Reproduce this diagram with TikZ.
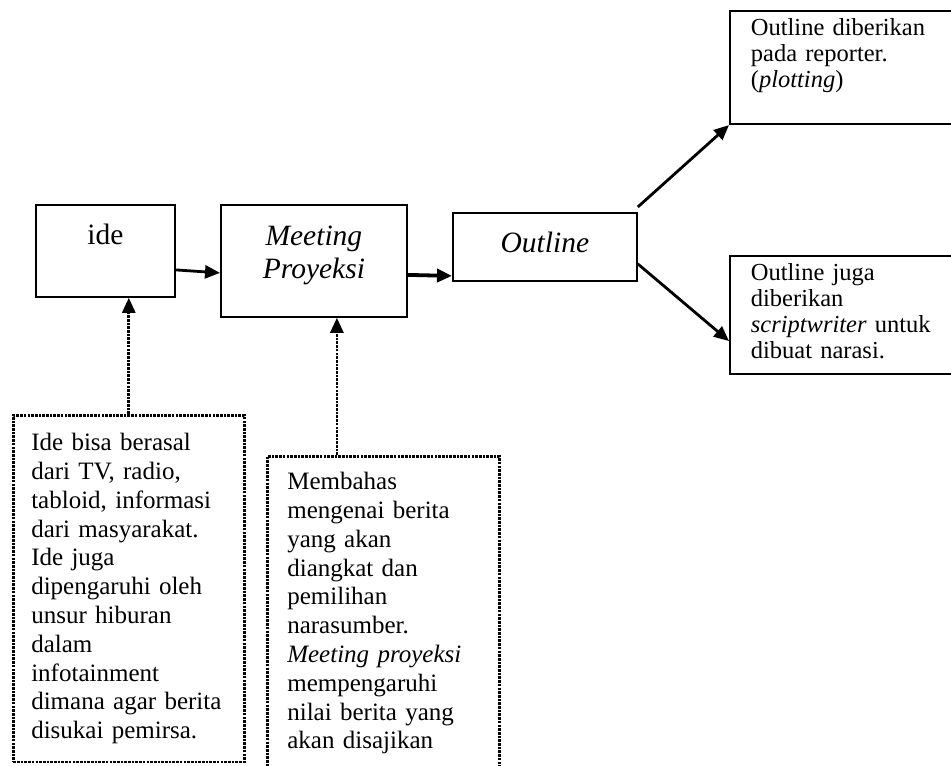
\documentclass[tikz,border=0pt]{standalone}
\usepackage{fontspec}
\setmainfont{Liberation Serif}
\usetikzlibrary{arrows.meta}

\begin{document}
\begin{tikzpicture}[x=1pt, y=-1pt,
    mainbox/.style={draw, line width=1.8pt, anchor=north west, font=\fontsize{29.5}{32.5}\selectfont},
    sidebox/.style={draw, line width=1.8pt, anchor=north west, align=left, inner xsep=21pt, inner ysep=8pt, font=\fontsize{24.5}{26}\selectfont},
    notebox/.style={draw, line width=2.6pt, dash pattern=on 2.6pt off 1.1pt, anchor=north west, align=left, inner xsep=20pt, font=\fontsize{25}{28.8}\selectfont},
    arr/.style={-{Triangle[length=15pt,width=13pt]}, line width=2.8pt},
    dotarr/.style={arr, dash pattern=on 2.6pt off 1.1pt}]
    % Cadre de la page
    \useasboundingbox (0,0) rectangle (951,766);

    % Les trois etapes principales
    \node[mainbox, minimum width=139pt, minimum height=92pt, text depth=34pt] (ide) at (35,204) {ide};
    \node[mainbox, minimum width=186pt, minimum height=112pt, align=center, font=\fontsize{29.5}{32.5}\selectfont\itshape] (meet) at (220,204) {Meeting\\Proyeksi\rule[-17pt]{0pt}{0pt}};
    \node[mainbox, minimum width=184pt, minimum height=68pt, text depth=10pt, font=\fontsize{29.5}{32.5}\selectfont\itshape] (outl) at (452,212) {Outline};

    % Les deux sorties a droite
    \node[sidebox, text width=189pt] (plot) at (729,10) {Outline diberikan\\pada reporter.\\(\textit{plotting})\rule[-28.3pt]{0pt}{0pt}};
    \node[sidebox, text width=189pt] (script) at (729,255) {Outline juga\\diberikan\\\textit{scriptwriter} untuk\\dibuat narasi.\rule[-7.3pt]{0pt}{0pt}};

    % Les notes en pointilles
    \node[notebox, text width=195pt, inner xsep=18pt, inner ysep=18pt] (note1) at (12,414) {Ide bisa berasal\\dari TV, radio,\\tabloid, informasi\\dari masyarakat.\\Ide juga\\dipengaruhi oleh\\unsur hiburan\\dalam\\infotainment\\dimana agar berita\\disukai pemirsa.};
    \node[notebox, text width=192pt, inner ysep=16pt] (note2) at (266,455) {Membahas\\mengenai berita\\yang akan\\diangkat dan\\pemilihan\\narasumber.\\\textit{Meeting proyeksi}\\mempengaruhi\\nilai berita yang\\akan disajikan\rule[-30pt]{0pt}{0pt}};

    % Les fleches
    \draw[arr] ([yshift=-19pt]ide.east) -- ([yshift=-12pt]meet.west);
    \draw[arr, line width=3.8pt] ([yshift=-14pt]meet.east) -- ([yshift=-29pt]outl.west);
    \draw[arr] ([yshift=5pt]outl.north east) -- (plot.south west);
    \draw[arr] ([yshift=-17pt]outl.east) -- ([yshift=-26pt]script.west);
    \draw[dotarr] (note1.north) -- (note1.north |- ide.south);
    \draw[dotarr] ([xshift=23pt]meet.south |- note2.north) -- ([xshift=23pt]meet.south);
\end{tikzpicture}
\end{document}
